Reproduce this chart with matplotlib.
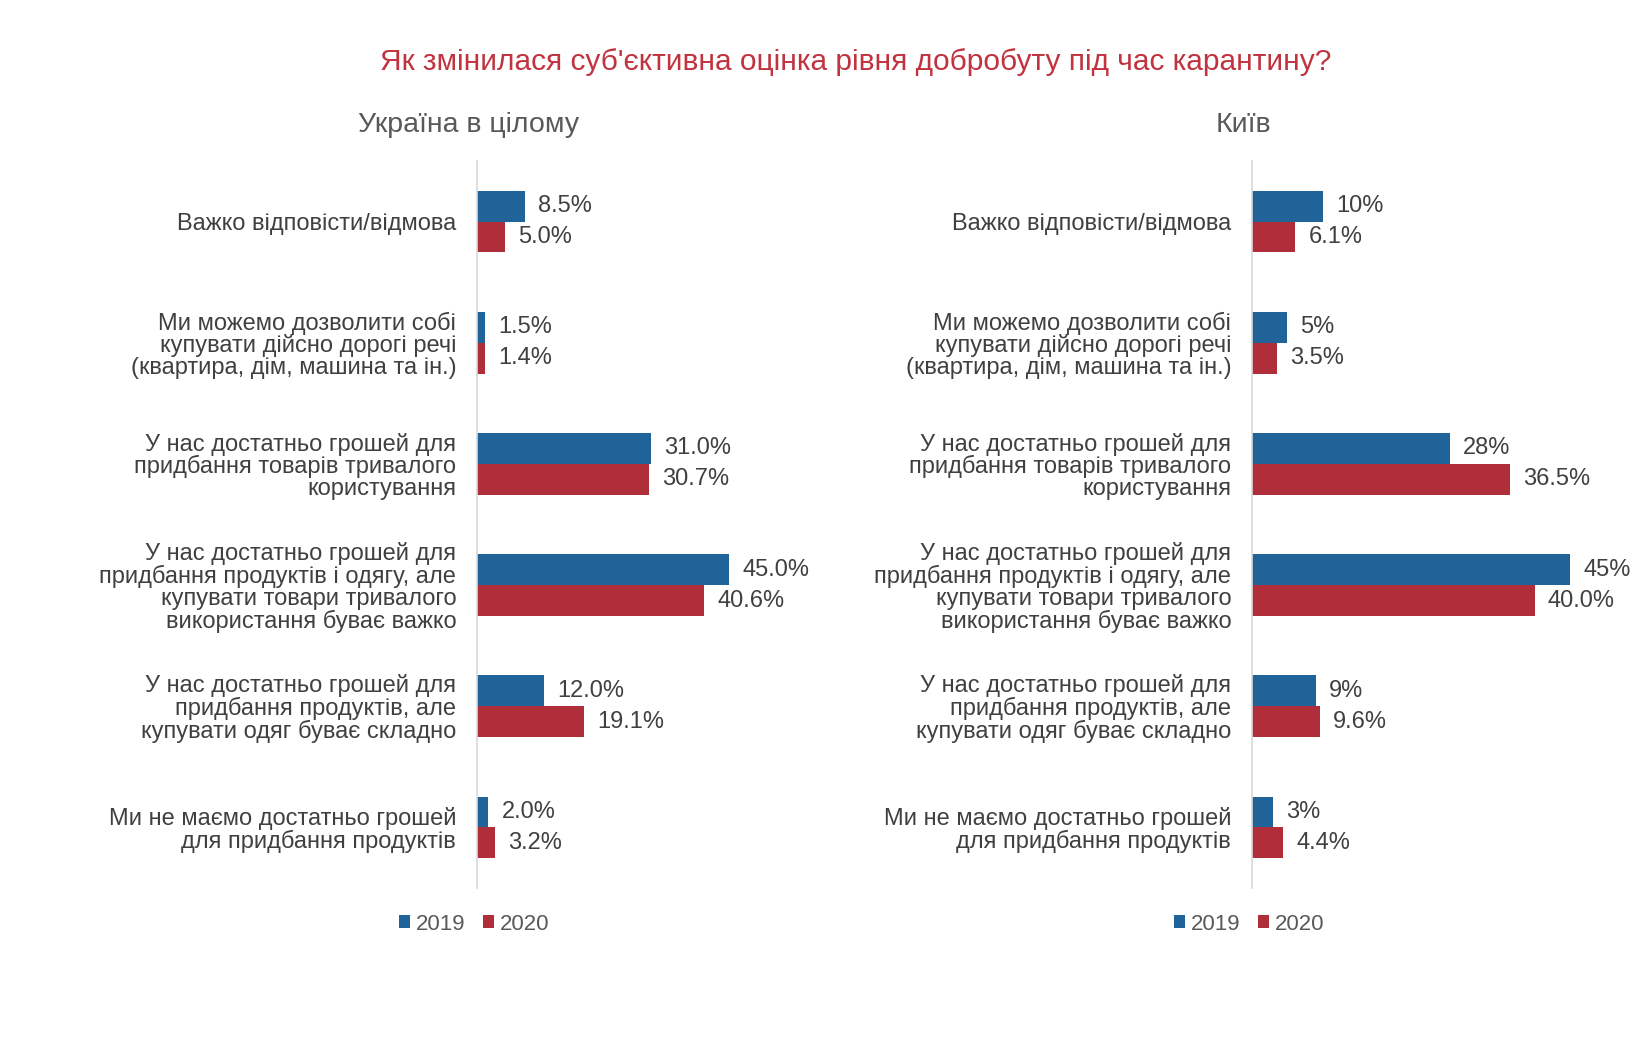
import matplotlib
matplotlib.use("Agg")
import matplotlib.pyplot as plt
import numpy as np

plt.rcParams['font.family'] = ['Liberation Sans', 'DejaVu Sans']

title = "Як змінилася суб'єктивна оцінка рівня добробуту під час карантину?"
panel_titles = ["Україна в цілому", "Київ"]
categories = [
    "Важко відповісти/відмова",
    "Ми можемо дозволити собі\nкупувати дійсно дорогі речі\n(квартира, дім, машина та ін.)",
    "У нас достатньо грошей для\nпридбання товарів тривалого\nкористування",
    "У нас достатньо грошей для\nпридбання продуктів і одягу, але\nкупувати товари тривалого\nвикористання буває важко",
    "У нас достатньо грошей для\nпридбання продуктів, але\nкупувати одяг буває складно",
    "Ми не маємо достатньо грошей\nдля придбання продуктів",
]
series = ["2019", "2020"]
ua_2019 = [8.5, 1.5, 31.0, 45.0, 12.0, 2.0]
ua_2020 = [5.0, 1.4, 30.7, 40.6, 19.1, 3.2]
kyiv_2019 = [10, 5, 28, 45, 9, 3]
kyiv_2020 = [6.1, 3.5, 36.5, 40.0, 9.6, 4.4]
ua_fmt = ["{:.1f}%", "{:.1f}%"]
kyiv_fmt = ["{:.0f}%", "{:.1f}%"]

BLUE = "#1f6398"
RED = "#b02e3a"
TXT = "#404040"

W, H = 1632, 1050
fig = plt.figure(figsize=(W / 100, H / 100), dpi=100)
fig.patch.set_facecolor("white")

fig.text(856 / W, 1 - 62 / H, title, ha="center", va="center",
         color="#c0333f", fontsize=21.5)

panels = [
    dict(x0=477, xmax=50, px_per=5.6, v19=ua_2019, v20=ua_2020, fmt=ua_fmt,
         title=panel_titles[0], tx=469),
    dict(x0=1252, xmax=50, px_per=7.07, v19=kyiv_2019, v20=kyiv_2020, fmt=kyiv_fmt,
         title=panel_titles[1], tx=1243),
]

top_px, bot_px = 161, 888
bh = 0.255
for p in panels:
    width_px = p["xmax"] * p["px_per"]
    ax = fig.add_axes([p["x0"] / W, 1 - bot_px / H, width_px / W, (bot_px - top_px) / H])
    y = np.arange(len(categories))
    b1 = ax.barh(y - bh / 2, p["v19"], height=bh, color=BLUE, label=series[0])
    b2 = ax.barh(y + bh / 2, p["v20"], height=bh, color=RED, label=series[1])
    ax.set_ylim(len(categories) - 0.5, -0.5)
    ax.set_xlim(0, p["xmax"])
    for bars, vals, f in [(b1, p["v19"], p["fmt"][0]), (b2, p["v20"], p["fmt"][1])]:
        for rect, v in zip(bars, vals):
            ax.annotate(f.format(v), (v, rect.get_y() + rect.get_height() / 2),
                        xytext=(9.5, 0), textcoords="offset points",
                        ha="left", va="center", fontsize=17, color=TXT)
    ax.set_yticks(y)
    ax.set_yticklabels(categories, fontsize=17, color=TXT, linespacing=0.98)
    ax.tick_params(axis="y", length=0, pad=15)
    ax.set_xticks([])
    for s in ["top", "right", "bottom"]:
        ax.spines[s].set_visible(False)
    ax.spines["left"].set_color("#d9d9d9")
    ax.spines["left"].set_linewidth(1.2)
    ax.set_facecolor("none")
    fig.text(p["tx"] / W, 1 - 125 / H, p["title"], ha="center", va="center",
             color="#595959", fontsize=20.5)
    leg = fig.legend(handles=[b1, b2], labels=series, loc="center",
                     bbox_to_anchor=((p["x0"] - 3) / W, 1 - 924 / H), ncol=2,
                     frameon=False, fontsize=16, handlelength=0.5, handleheight=0.5,
                     handletextpad=0.25, columnspacing=0.8, labelcolor="#595959")

fig.savefig("out.png", dpi=100, facecolor="white")
